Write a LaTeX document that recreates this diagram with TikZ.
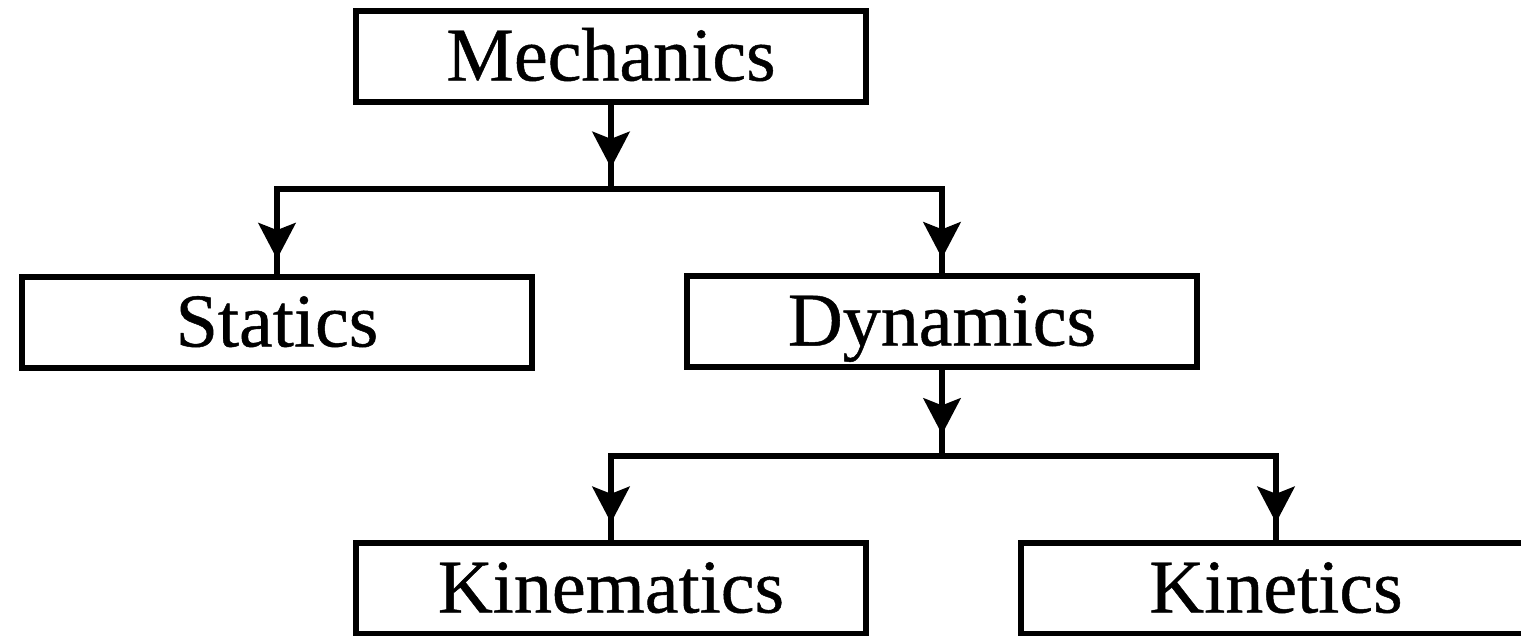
\documentclass[tikz,border=0pt]{standalone}
\usepackage{fontspec}
\usetikzlibrary{arrows.meta,decorations.markings}
\newfontfamily\boxfont[FakeBold=0.6]{Liberation Serif}

\tikzset{
  box/.style={draw, line width=6pt, fill=white, minimum width=510pt,
    minimum height=91pt, inner sep=0pt, text height=49pt, text depth=0pt,
    font=\boxfont\fontsize{76}{82}\selectfont},
  link/.style={line width=6.5pt, line join=miter},
  headat/.style={postaction={decorate}, decoration={markings,
    mark=at position #1 with {\arrow{Stealth[length=36pt,width=37pt,inset=7pt]}}}},
}

\begin{document}
\begin{tikzpicture}[x=1pt,y=-1pt]
\fill[white] (0,0) rectangle (1521,635);
\useasboundingbox (0,0) rectangle (1521,635);

% boxes of the hierarchy
\node[box] (mech) at (611,56)  {Mechanics};
\node[box] (stat) at (277,322) {Statics};
\node[box] (dyn)  at (942,321) {Dynamics};
\node[box] (kinm) at (611,588) {Kinematics};
\node[box] (kint) at (1276,588) {Kinetics};

% branch points
\coordinate (j1) at (611,189);
\coordinate (j2) at (942,456);

% Mechanics -> Statics / Dynamics
\draw[link, headat=0.75] (mech.south) -- (j1);
\draw[link] (stat.north) -- (stat.north |- j1) -- (dyn.north |- j1) -- (dyn.north);
\path[link, headat=0.83] (stat.north |- j1) -- (stat.north);
\path[link, headat=0.83] (dyn.north |- j1) -- (dyn.north);

% Dynamics -> Kinematics / Kinetics
\draw[link, headat=0.75] (dyn.south) -- (j2);
\draw[link] (kinm.north) -- (kinm.north |- j2) -- (kint.north |- j2) -- (kint.north);
\path[link, headat=0.8] (kinm.north |- j2) -- (kinm.north);
\path[link, headat=0.8] (kint.north |- j2) -- (kint.north);
\end{tikzpicture}
\end{document}
